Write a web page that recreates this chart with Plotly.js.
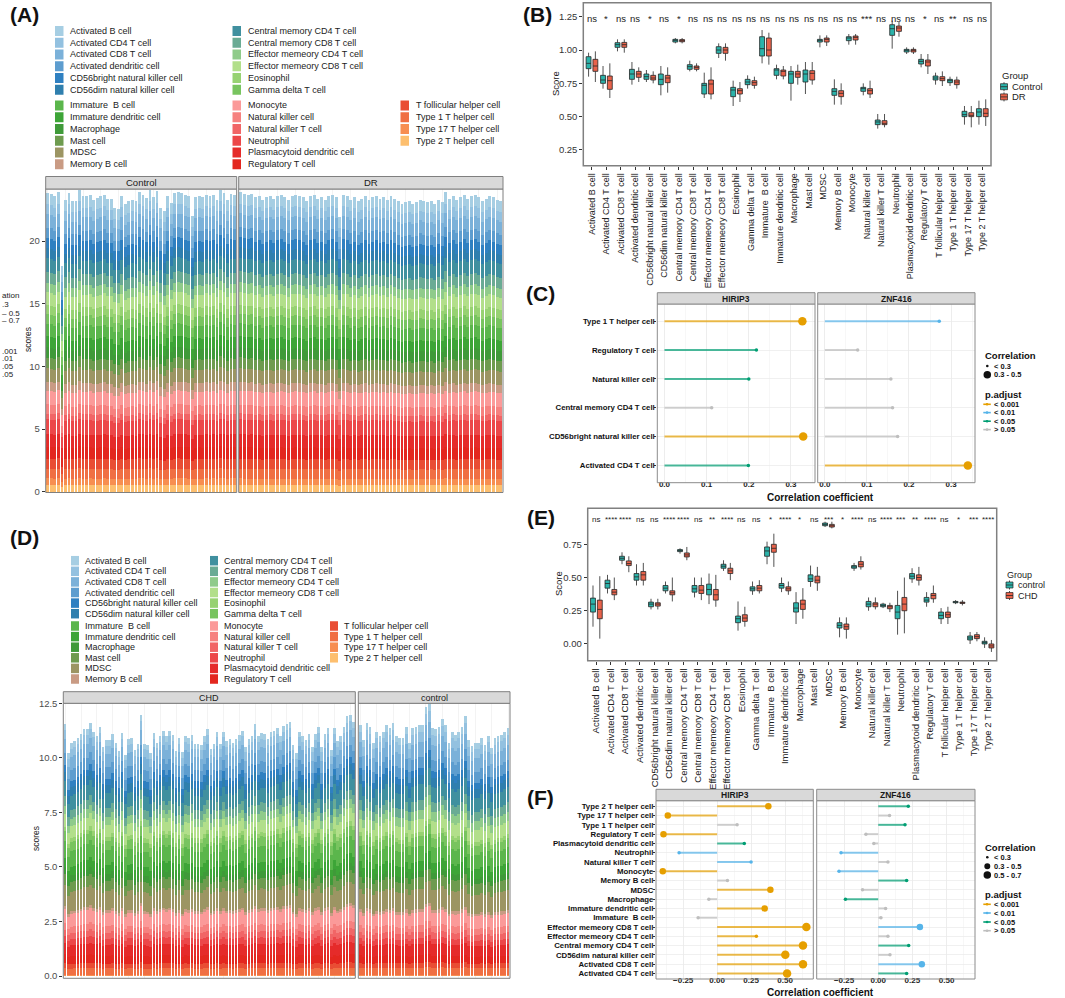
<!DOCTYPE html>
<html><head><meta charset="utf-8">
<script src="https://cdn.plot.ly/plotly-3.0.1.min.js"></script>
<style>html,body{margin:0;padding:0;background:#fff}#chart{width:1065px;height:998px}</style>
</head><body><div id="chart"></div>
<script>
// ---------------- DATA ----------------
const cellTypes=["Activated B cell","Activated CD4 T cell","Activated CD8 T cell","Activated dendritic cell","CD56bright natural killer cell","CD56dim natural killer cell","Central memory CD4 T cell","Central memory CD8 T cell","Effector memeory CD4 T cell","Effector memeory CD8 T cell","Eosinophil","Gamma delta T cell","Immature  B cell","Immature dendritic cell","Macrophage","Mast cell","MDSC","Memory B cell","Monocyte","Natural killer cell","Natural killer T cell","Neutrophil","Plasmacytoid dendritic cell","Regulatory T cell","T follicular helper cell","Type 1 T helper cell","Type 17 T helper cell","Type 2 T helper cell"];
const cellColors=["#a6cee3","#93c1e0","#7bb1d9","#5d9dcf","#2f80c1","#2f7fae","#40909f","#6aab94","#8fcb8a","#b2df8a","#97d272","#78c45f","#5bb64c","#3da537","#3f9a39","#6e9b4f","#9c9563","#c99b84","#fb9a99","#f6817f","#f16566","#ec4749","#e52b2a","#e3271f","#e94d34","#f06f43","#f78e51","#fdbf6f"];

// (A) per-sample total scores
const totalsA_Control=[23.84,23.76,23.57,23.91,18.0,23.3,23.84,23.22,23.22,24.1,23.57,23.57,23.65,23.3,23.44,23.57,23.7,23.38,23.38,22.64,22.59,23.62,22.96,23.17,23.3,23.22,23.91,23.7,23.44,24.1,23.49,23.97,22.64,22.37,23.57,23.04,23.84,23.91,23.84,23.7,23.57,21.97,23.49,23.57,23.49,23.7,23.57,23.7,23.3,24.1,23.84,23.3,23.76,23.7];
const totalsA_DR=[23.9,23.8,23.7,23.8,23.5,23.6,23.3,23.5,23.6,23.4,23.6,23.7,23.5,23.3,23.6,23.7,23.6,23.5,23.2,23.6,23.7,23.4,23.5,23.3,23.6,23.7,23.5,21.9,23.7,23.6,23.3,23.5,23.2,23.4,23.6,23.3,23.5,23.6,23.4,23.5,23.3,23.6,23.4,23.2,23.0,23.1,23.2,23.0,23.1,23.3,23.2,23.1,23.2,23.0,23.3,23.1,23.9,23.4,23.6,23.3,23.5,23.7,23.4,23.6,23.7,23.5,23.2,23.4,23.6,23.5,23.3,23.2];
// (D) per-sample total scores
const totalsD_CHD=[11.55,10.2,10.67,10.75,10.9,11.08,11.3,11.3,11.6,11.2,11.0,11.4,10.5,10.8,10.8,11.1,10.7,10.3,11.15,10.15,10.85,10.9,10.35,10.65,11.97,10.65,10.6,10.2,11.15,10.7,11.0,11.25,11.0,11.25,11.05,10.3,10.9,10.25,11.0,10.9,11.05,10.65,10.65,10.6,11.0,11.3,10.4,10.65,11.2,10.65,11.2,10.75,10.85,10.7,10.85,11.05,11.25,10.5,10.85,11.0,11.55,11.0,11.15,11.1,10.85,11.2,11.25,11.35,11.0,11.45,11.55,11.65,10.6,10.2,11.2,11.0,10.8,11.1,10.5,11.1,11.4,10.5,11.1,11.35,10.35,11.35,10.75,11.0,11.4,11.9,11.97,11.65];
const totalsD_control=[11.5,10.8,11.6,11.4,10.7,11.2,11.0,11.2,11.5,11.35,11.6,11.0,10.9,10.9,11.4,10.7,11.35,11.4,11.5,11.5,12.35,12.5,11.35,11.3,11.4,11.8,11.5,10.7,11.2,11.05,11.2,11.4,11.9,10.8,10.55,10.7,10.7,10.9,10.6,11.0,10.45,10.9,11.0,11.05,11.2,11.35];

// (B) box statistics
const bCtrlLo=[0.80,0.71,0.99,0.74,0.76,0.66,1.05,0.84,0.64,0.94,0.58,0.71,0.90,0.78,0.62,0.67,1.02,0.59,1.04,0.66,0.41,1.01,0.97,0.87,0.74,0.73,0.44,0.44];
const bCtrlQ1=[0.86,0.75,1.02,0.78,0.78,0.74,1.06,0.855,0.67,0.975,0.65,0.74,0.955,0.81,0.75,0.76,1.06,0.66,1.07,0.69,0.44,1.11,0.985,0.895,0.775,0.755,0.50,0.50];
const bCtrlMed=[0.90,0.775,1.04,0.82,0.80,0.78,1.075,0.875,0.735,1.00,0.70,0.76,1.01,0.85,0.82,0.82,1.075,0.69,1.09,0.71,0.46,1.16,1.00,0.915,0.79,0.77,0.515,0.535];
const bCtrlQ3=[0.95,0.81,1.055,0.855,0.82,0.82,1.08,0.89,0.75,1.025,0.72,0.78,1.10,0.86,0.84,0.85,1.08,0.71,1.10,0.72,0.475,1.19,1.005,0.93,0.805,0.78,0.54,0.56];
const bCtrlHi=[0.98,0.88,1.08,0.91,0.85,0.88,1.09,0.92,0.83,1.05,0.77,0.81,1.15,0.89,0.88,0.91,1.11,0.78,1.12,0.75,0.52,1.22,1.02,0.97,0.83,0.80,0.58,0.62];
const bDRLo=[0.76,0.64,0.98,0.76,0.75,0.68,1.05,0.84,0.63,0.92,0.61,0.71,0.89,0.78,0.74,0.74,1.03,0.59,1.04,0.64,0.42,1.10,0.97,0.82,0.73,0.71,0.42,0.43];
const bDRQ1=[0.84,0.705,1.02,0.795,0.775,0.755,1.062,0.855,0.67,0.975,0.67,0.735,0.955,0.805,0.795,0.775,1.06,0.65,1.075,0.67,0.44,1.14,0.985,0.88,0.77,0.74,0.50,0.50];
const bDRMed=[0.88,0.77,1.04,0.82,0.79,0.79,1.07,0.87,0.745,1.00,0.695,0.755,1.00,0.84,0.82,0.825,1.08,0.675,1.095,0.695,0.45,1.165,1.00,0.91,0.785,0.76,0.51,0.525];
const bDRQ3=[0.93,0.805,1.057,0.84,0.81,0.81,1.078,0.88,0.775,1.02,0.71,0.77,1.09,0.85,0.84,0.845,1.09,0.695,1.105,0.71,0.47,1.18,1.005,0.925,0.80,0.775,0.53,0.56];
const bDRHi=[0.99,0.90,1.08,0.87,0.84,0.87,1.09,0.90,0.87,1.05,0.76,0.80,1.13,0.88,0.89,0.91,1.11,0.75,1.12,0.77,0.52,1.21,1.02,0.97,0.84,0.80,0.58,0.63];
const sigB=["ns","*","ns","ns","*","ns","*","ns","ns","ns","ns","ns","ns","ns","ns","ns","ns","ns","ns","***","ns","ns","ns","*","ns","**","ns","ns"];

// (E) box statistics
const eCtrlLo=[0.13,0.38,0.60,0.44,0.26,0.38,0.68,0.35,0.30,0.55,0.10,0.37,0.60,0.39,0.15,0.43,0.88,0.05,0.55,0.25,0.27,0.07,0.46,0.28,0.15,0.30,0.00,-0.03];
const eCtrlQ1=[0.24,0.42,0.63,0.48,0.28,0.40,0.695,0.39,0.37,0.57,0.16,0.40,0.66,0.42,0.24,0.47,0.89,0.12,0.57,0.28,0.28,0.19,0.49,0.315,0.19,0.31,0.03,0.00];
const eCtrlMed=[0.30,0.455,0.645,0.505,0.30,0.42,0.70,0.415,0.41,0.585,0.19,0.415,0.70,0.44,0.27,0.49,0.90,0.14,0.58,0.30,0.29,0.24,0.51,0.33,0.215,0.315,0.045,0.01];
const eCtrlQ3=[0.345,0.48,0.66,0.53,0.315,0.44,0.71,0.44,0.45,0.60,0.21,0.43,0.73,0.455,0.31,0.52,0.91,0.16,0.59,0.32,0.30,0.29,0.53,0.35,0.24,0.32,0.06,0.02];
const eCtrlHi=[0.44,0.52,0.69,0.60,0.34,0.47,0.72,0.50,0.53,0.63,0.32,0.47,0.77,0.50,0.39,0.59,0.92,0.20,0.61,0.35,0.31,0.40,0.57,0.39,0.27,0.33,0.09,0.05];
const eCHDLo=[0.04,0.33,0.54,0.44,0.26,0.32,0.63,0.33,0.28,0.48,0.13,0.38,0.58,0.37,0.19,0.40,0.87,0.04,0.56,0.26,0.24,0.08,0.44,0.31,0.15,0.29,0.02,-0.06];
const eCHDQ1=[0.19,0.37,0.59,0.48,0.285,0.37,0.655,0.38,0.33,0.53,0.17,0.40,0.69,0.40,0.26,0.46,0.88,0.11,0.58,0.28,0.265,0.25,0.48,0.34,0.20,0.305,0.04,-0.03];
const eCHDMed=[0.26,0.39,0.605,0.52,0.30,0.385,0.67,0.405,0.37,0.55,0.195,0.42,0.72,0.415,0.30,0.48,0.89,0.13,0.60,0.30,0.28,0.30,0.50,0.365,0.22,0.31,0.055,-0.015];
const eCHDQ3=[0.33,0.41,0.625,0.545,0.31,0.40,0.685,0.44,0.41,0.57,0.22,0.44,0.75,0.43,0.33,0.51,0.90,0.15,0.62,0.31,0.29,0.35,0.52,0.38,0.24,0.315,0.07,0.00];
const eCHDHi=[0.51,0.50,0.66,0.61,0.34,0.50,0.73,0.50,0.52,0.61,0.28,0.48,0.83,0.47,0.42,0.58,0.92,0.20,0.66,0.35,0.31,0.50,0.58,0.44,0.28,0.33,0.09,0.03];
const sigE=["ns","****","****","ns","ns","****","****","ns","**","****","ns","ns","*","****","*","ns","***","*","****","ns","****","***","**","****","ns","*","***","****"];

// (C) correlations
const cCells=["Type 1 T helper cell","Regulatory T cell","Natural killer cell","Central memory CD4 T cell","CD56bright natural killer cell","Activated CD4 T cell"];
const cHIRIP3_r=[0.327,0.218,0.200,0.112,0.329,0.199];
const cHIRIP3_p=["<0.001","<0.05","<0.05",">0.05","<0.001","<0.05"];
const cZNF416_r=[0.272,0.078,0.157,0.161,0.173,0.340];
const cZNF416_p=["<0.01",">0.05",">0.05",">0.05",">0.05","<0.001"];

// (F) correlations
const fCells=["Type 2 T helper cell","Type 17 T helper cell","Type 1 T helper cell","Regulatory T cell","Plasmacytoid dendritic cell","Neutrophil","Natural killer T cell","Monocyte","Memory B cell","MDSC","Macrophage","Immature dendritic cell","Immature  B cell","Effector memeory CD8 T cell","Effector memeory CD4 T cell","Central memory CD4 T cell","CD56dim natural killer cell","Activated CD8 T cell","Activated CD4 T cell"];
const fHIRIP3_r=[0.377,-0.363,0.147,-0.395,0.200,-0.280,0.250,-0.400,0.076,0.392,-0.061,0.350,-0.140,0.657,0.289,0.632,0.502,0.632,0.515];
const fHIRIP3_p=["<0.001","<0.001",">0.05","<0.001","<0.05","<0.01","<0.01","<0.001",">0.05","<0.001",">0.05","<0.001",">0.05","<0.001","<0.001","<0.001","<0.001","<0.001","<0.001"];
const fZNF416_r=[0.220,0.083,0.196,-0.090,-0.032,-0.272,0.071,-0.287,0.208,-0.115,-0.240,0.054,0.020,0.305,0.071,0.223,0.086,0.319,0.208];
const fZNF416_p=["<0.05",">0.05","<0.05",">0.05",">0.05","<0.01",">0.05","<0.01","<0.05",">0.05","<0.05",">0.05",">0.05","<0.01",">0.05","<0.05",">0.05","<0.01","<0.05"];

// ---------------- STYLE / LAYOUT ----------------
const W=1065,H=998;
const px=v=>v/W, py=v=>1-v/H;
const FONT="Liberation Sans, Arial, Helvetica, sans-serif";
const TEAL="#2bb3aa", RED="#e8624a";
const PCOL={"<0.001":"#E69F00","<0.01":"#56B4E9","<0.05":"#009E73",">0.05":"#BEBEBE"};
const traces=[],shapes=[],annotations=[];

function txt(x,y,text,o){
  o=o||{};
  annotations.push({xref:"paper",yref:"paper",x:px(x),y:py(y),text:text,showarrow:false,
    xanchor:o.xanchor||"left",yanchor:o.yanchor||"middle",textangle:o.angle||0,
    font:{family:FONT,size:o.size||9,color:o.color||"#222",weight:o.weight||"normal"}});
}
function rect(x0,y0,x1,y1,fill,line,lw){
  shapes.push({type:"rect",xref:"paper",yref:"paper",x0:px(x0),x1:px(x1),y0:py(y1),y1:py(y0),
    fillcolor:fill||"rgba(0,0,0,0)",line:{color:line||"rgba(0,0,0,0)",width:lw==null?1:lw},layer:"above"});
}
function seg(x0,y0,x1,y1,color,w){
  shapes.push({type:"line",xref:"paper",yref:"paper",x0:px(x0),x1:px(x1),y0:py(y0),y1:py(y1),line:{color:color,width:w||1},layer:"above"});
}
function dot(cx,cy,d,color){
  shapes.push({type:"circle",xref:"paper",yref:"paper",x0:px(cx-d/2),x1:px(cx+d/2),y0:py(cy+d/2),y1:py(cy-d/2),fillcolor:color,line:{width:0},layer:"above"});
}

const layout={width:W,height:H,margin:{l:0,r:0,t:0,b:0},paper_bgcolor:"#fff",plot_bgcolor:"#fff",
  showlegend:false,font:{family:FONT,size:9,color:"#333"},barmode:"stack",bargap:0.2,
  boxmode:"group",boxgap:0.06,boxgroupgap:0.28,shapes:shapes,annotations:annotations};

// ---------- stacked panels (A, D) ----------
function stackedPanel(xa,ya,totals,medians,prefix){
  const sumMed=medians.reduce((a,b)=>a+b,0);
  const ids=totals.map((_,i)=>prefix+"_"+(i+1));
  for(let k=cellTypes.length-1;k>=0;k--){
    traces.push({type:"bar",xaxis:xa,yaxis:ya,x:ids,y:totals.map(t=>t*medians[k]/sumMed),
      marker:{color:cellColors[k],line:{width:0}},hoverinfo:"skip",showlegend:false});
  }
  return ids;
}
function catX(x0,x1,anchor,ids){
  return {domain:[px(x0),px(x1)],anchor:anchor,type:"category",categoryorder:"array",categoryarray:ids,
    range:[-0.6,ids.length-0.4],showticklabels:false,ticks:"",showgrid:true,gridcolor:"#ebebeb",gridwidth:0.6,
    zeroline:false,showline:false,fixedrange:true};
}
function stackY(y0,y1,anchor,range,tv,tt){
  return {domain:[py(y1),py(y0)],anchor:anchor,range:range,tickmode:"array",tickvals:tv,ticktext:tt,ticks:"outside",ticklen:3,
    tickcolor:"#333",tickfont:{family:FONT,size:9.5,color:"#4d4d4d"},showgrid:false,zeroline:false,showline:false};
}
function cellLegend(cfg){
  cellTypes.forEach((c,i)=>{
    let col,row,block;
    if(i<6){col=0;row=i;block=0;}else if(i<12){col=1;row=i-6;block=0;}
    else if(i<18){col=0;row=i-12;block=1;}else if(i<24){col=1;row=i-18;block=1;}
    else{col=2;row=i-24;block=1;}
    const y=cfg.y0[block]+row*cfg.dy;
    const x=cfg.cx[col];
    rect(x,y-cfg.sh/2,x+cfg.sw,y+cfg.sh/2,cellColors[i],"rgba(0,0,0,0)",0);
    txt(x+cfg.tx,y,c,{size:9,color:"#222"});
  });
}

// A
const idsAC=stackedPanel("x","y",totalsA_Control,bCtrlMed,"Control");
const idsAD=stackedPanel("x2","y",totalsA_DR,bDRMed,"DR");
layout.xaxis=catX(45.7,236.7,"y",idsAC);
layout.xaxis2=catX(238.7,503,"y",idsAD);
layout.yaxis=stackY(189,492.5,"x",[-0.06,24.16],[0,5,10,15,20],["0","5","10","15","20"]);
rect(45.7,189,236.7,492.5,null,"#7f7f7f",1);
rect(238.7,189,503,492.5,null,"#7f7f7f",1);
rect(45.7,176.5,236.7,189,"#d9d9d9","#7f7f7f",1);
rect(238.7,176.5,503,189,"#d9d9d9","#7f7f7f",1);
txt(141.2,182.8,"Control",{xanchor:"center",size:9.5,color:"#1a1a1a"});
txt(370.9,182.8,"DR",{xanchor:"center",size:9.5,color:"#1a1a1a"});
txt(28,340,"scores",{xanchor:"center",angle:-90,size:8.5,color:"#222"});
cellLegend({y0:[31,105.5],dy:11.75,cx:[55,232.5,400.5],sw:8.5,sh:10,tx:13});
// clipped legend fragments at left edge
[["ation",295],[".3",305],["\u2013 0.5",313.3],["\u2013 0.7",321],[".001",351],[".01",358.3],[".05",366.7],[".05",374.3]].forEach(a=>txt(0,a[1],a[0],{size:8,color:"#222"}));

// D
const idsDC=stackedPanel("x3","y2",totalsD_CHD,eCHDMed,"CHD");
const idsDN=stackedPanel("x4","y2",totalsD_control,eCtrlMed,"control");
layout.xaxis3=catX(63.3,355.3,"y2",idsDC);
layout.xaxis4=catX(358.3,510,"y2",idsDN);
layout.yaxis2=stackY(703.3,978.3,"x3",[-0.105,12.5],[0,2.5,5,7.5,10,12.5],["0.0","2.5","5.0","7.5","10.0","12.5"]);
rect(63.3,703.3,355.3,978.3,null,"#7f7f7f",1);
rect(358.3,703.3,510,978.3,null,"#7f7f7f",1);
rect(63.3,691.7,355.3,703.3,"#d9d9d9","#7f7f7f",1);
rect(358.3,691.7,510,703.3,"#d9d9d9","#7f7f7f",1);
txt(209.3,697.5,"CHD",{xanchor:"center",size:9,color:"#1a1a1a"});
txt(434.2,697.5,"control",{xanchor:"center",size:9,color:"#1a1a1a"});
txt(36,838,"scores",{xanchor:"center",angle:-90,size:8.5,color:"#222"});
cellLegend({y0:[560.7,626],dy:10.6,cx:[71,210,330],sw:8,sh:9.5,tx:12});

// ---------- box panels (B, E) ----------
function boxTrace(xa,ya,name,fill,lo,q1,med,q3,hi){
  traces.push({type:"box",orientation:"v",xaxis:xa,yaxis:ya,x:cellTypes,q1:q1,median:med,q3:q3,lowerfence:lo,upperfence:hi,
    name:name,offsetgroup:name,fillcolor:fill,line:{color:"#262626",width:0.8},whiskerwidth:0,boxpoints:false,hoverinfo:"skip"});
}
function boxX(x0,x1,anchor,size){
  return {domain:[px(x0),px(x1)],anchor:anchor,type:"category",categoryorder:"array",categoryarray:cellTypes,
    range:[-0.6,cellTypes.length-0.4],tickmode:"array",tickvals:cellTypes,ticktext:cellTypes,tickangle:-90,
    ticks:"outside",ticklen:3,tickcolor:"#333",tickfont:{family:FONT,size:size,color:"#222"},showgrid:false,zeroline:false,showline:false};
}
function boxLegend(x,yT,y1,y2,l1,l2,fs){
  txt(x-1,yT,"Group",{size:fs,color:"#222"});
  [[y1,TEAL,l1],[y2,RED,l2]].forEach(a=>{
    seg(x+3.5,a[0]-4.5,x+3.5,a[0]+4.5,"#262626",0.8);
    rect(x,a[0]-3,x+7,a[0]+3,a[1],"#262626",0.7);
    seg(x,a[0],x+7,a[0],"#262626",0.8);
    txt(x+9.5,a[0],a[2],{size:fs,color:"#222"});
  });
}
// B
boxTrace("x5","y3","Control",TEAL,bCtrlLo,bCtrlQ1,bCtrlMed,bCtrlQ3,bCtrlHi);
boxTrace("x5","y3","DR",RED,bDRLo,bDRQ1,bDRMed,bDRQ3,bDRHi);
layout.xaxis5=boxX(583.3,991,"y3",9);
layout.yaxis3={domain:[py(165.7),py(2.7)],anchor:"x5",range:[0.132,1.355],tickmode:"array",tickvals:[0.25,0.5,0.75,1.0,1.25],
  ticktext:["0.25","0.50","0.75","1.00","1.25"],ticks:"outside",ticklen:3,tickcolor:"#333",tickfont:{family:FONT,size:9.5,color:"#333"},showgrid:false,zeroline:false};
rect(583.3,2.7,991,165.7,null,"#808080",1.5);
sigB.forEach((s,i)=>annotations.push({xref:"x5",yref:"y3",x:i,y:1.236,text:s,showarrow:false,yanchor:"middle",font:{family:FONT,size:9.5,color:"#222"}}));
txt(556,84,"Score",{xanchor:"center",angle:-90,size:9.5,color:"#222"});
boxLegend(1000.5,75.8,86.7,96.9,"Control","DR",9.5);
// E
boxTrace("x6","y4","control",TEAL,eCtrlLo,eCtrlQ1,eCtrlMed,eCtrlQ3,eCtrlHi);
boxTrace("x6","y4","CHD",RED,eCHDLo,eCHDQ1,eCHDMed,eCHDQ3,eCHDHi);
layout.xaxis6=boxX(587.7,996.7,"y4",9.5);
layout.yaxis4={domain:[py(660.7),py(508.3)],anchor:"x6",range:[-0.126,1.021],tickmode:"array",tickvals:[0,0.25,0.5,0.75],
  ticktext:["0.00","0.25","0.50","0.75"],ticks:"outside",ticklen:3,tickcolor:"#333",tickfont:{family:FONT,size:9.5,color:"#333"},showgrid:false,zeroline:false};
rect(587.7,508.3,996.7,660.7,null,"#808080",1.5);
sigE.forEach((s,i)=>annotations.push({xref:"x6",yref:"y4",x:i,y:0.94,text:s,showarrow:false,yanchor:"middle",font:{family:FONT,size:8,color:"#222"}}));
txt(558,584,"Score",{xanchor:"center",angle:-90,size:9.5,color:"#222"});
boxLegend(1006,575.2,585,595.5,"control","CHD",9);

// ---------- lollipop panels (C, F) ----------
function lolli(xa,ya,cells,r,p,sizeFn){
  Object.keys(PCOL).forEach(k=>{
    const xs=[],ys=[];
    cells.forEach((c,i)=>{if(p[i]===k){xs.push(0,r[i],null);ys.push(c,c,null);}});
    if(xs.length) traces.push({type:"scatter",mode:"lines",xaxis:xa,yaxis:ya,x:xs,y:ys,connectgaps:false,
      line:{color:PCOL[k],width:2},opacity:0.7,hoverinfo:"skip"});
  });
  traces.push({type:"scatter",mode:"markers",xaxis:xa,yaxis:ya,x:r,y:cells,
    marker:{color:p.map(k=>PCOL[k]),size:r.map(sizeFn),opacity:1,line:{width:0}},hoverinfo:"skip"});
}
function corX(x0,x1,anchor,range,dtick,fmt){
  return {domain:[px(x0),px(x1)],anchor:anchor,range:range,tickmode:"linear",tick0:0,dtick:dtick,tickformat:fmt,
    ticks:"",ticklabelstandoff:-5,tickfont:{family:FONT,size:8,color:"#222",weight:"bold"},
    showgrid:true,gridcolor:"#e6e6e6",gridwidth:0.7,minor:{tick0:0,dtick:dtick/2,showgrid:true,gridcolor:"#f2f2f2",gridwidth:0.6},
    zeroline:false,showline:false};
}
function corY(y0,y1,anchor,cells){
  return {domain:[py(y1),py(y0)],anchor:anchor,type:"category",categoryorder:"array",categoryarray:cells.slice().reverse(),
    range:[-0.6,cells.length-0.4],tickmode:"array",tickvals:cells,ticktext:cells,ticks:"outside",ticklen:2,tickcolor:"#333",
    ticklabelstandoff:-2,tickfont:{family:FONT,size:7.8,color:"#111",weight:"bold"},showgrid:true,gridcolor:"#e9e9e9",gridwidth:0.7,zeroline:false};
}
function corLegend(x,yT,sizeRows,yP,pRows){
  txt(x,yT,"Correlation",{size:9.5,weight:"bold",color:"#111"});
  sizeRows.forEach(a=>{dot(x+4,a[0],a[1],"#111");txt(x+9,a[0],a[2],{size:7.5,weight:"bold",color:"#111"});});
  txt(x,yP,"p.adjust",{size:9.5,weight:"bold",color:"#111"});
  Object.keys(PCOL).forEach((k,i)=>{
    const y=pRows[i];
    seg(x,y,x+7.5,y,PCOL[k],1.6);dot(x+3.75,y,2.6,PCOL[k]);
    txt(x+9,y,k.charAt(0)+" "+k.slice(1),{size:7.5,weight:"bold",color:"#111"});
  });
}
// C
const sizeC=v=>Math.abs(v)<0.3?3.5:8.5;
lolli("x7","y5",cCells,cHIRIP3_r,cHIRIP3_p,sizeC);
lolli("x8","y5",cCells,cZNF416_r,cZNF416_p,sizeC);
layout.xaxis7=corX(657.3,815,"y5",[-0.017,0.357],0.1,".1f");
layout.xaxis8=corX(817.7,975,"y5",[-0.017,0.357],0.1,".1f");
layout.yaxis5=corY(304,482.7,"x7",cCells);
rect(657.3,304,815,482.7,null,"#8c8c8c",1);
rect(817.7,304,975,482.7,null,"#8c8c8c",1);
rect(657.3,292.7,815,304,"#d9d9d9","#8c8c8c",1);
rect(817.7,292.7,975,304,"#d9d9d9","#8c8c8c",1);
txt(736.2,298.5,"HIRIP3",{xanchor:"center",size:8.5,weight:"bold",color:"#1a1a1a"});
txt(896.4,298.5,"ZNF416",{xanchor:"center",size:8.5,weight:"bold",color:"#1a1a1a"});
txt(820,497.5,"Correlation coefficient",{xanchor:"center",size:10,weight:"bold",color:"#111"});
corLegend(983.3,355.3,[[366,2.6,"< 0.3"],[374.7,7.5,"0.3 - 0.5"]],394,[404.3,412.6,421.2,429.6]);
// F
const sizeF=v=>Math.abs(v)<0.3?3.5:(Math.abs(v)<0.5?6.5:8.5);
lolli("x9","y6",fCells,fHIRIP3_r,fHIRIP3_p,sizeF);
lolli("x10","y6",fCells,fZNF416_r,fZNF416_p,sizeF);
layout.xaxis9=corX(656,813.3,"y6",[-0.45,0.708],0.25,".2f");
layout.xaxis10=corX(816.7,975,"y6",[-0.45,0.708],0.25,".2f");
layout.yaxis6=corY(800.7,979,"x9",fCells);
rect(656,800.7,813.3,979,null,"#8c8c8c",1);
rect(816.7,800.7,975,979,null,"#8c8c8c",1);
rect(656,789.3,813.3,800.7,"#d9d9d9","#8c8c8c",1);
rect(816.7,789.3,975,800.7,"#d9d9d9","#8c8c8c",1);
txt(734.7,795,"HIRIP3",{xanchor:"center",size:8.5,weight:"bold",color:"#1a1a1a"});
txt(895.9,795,"ZNF416",{xanchor:"center",size:8.5,weight:"bold",color:"#1a1a1a"});
txt(820,992,"Correlation coefficient",{xanchor:"center",size:10,weight:"bold",color:"#111"});
corLegend(983.3,847.7,[[857.3,2.6,"< 0.3"],[866.3,6,"0.3 - 0.5"],[875,7.5,"0.5 - 0.7"]],894,[904.3,913,922,930.7]);

// panel letters
[["(A)",8,14],["(B)",521,14],["(C)",524,293],["(D)",8,537.5],["(E)",525,517.5],["(F)",525,797.5]].forEach(a=>
  txt(a[1],a[2],a[0],{size:21,weight:"bold",color:"#111"}));

Plotly.newPlot("chart",traces,layout,{staticPlot:true,displayModeBar:false});
</script></body></html>
